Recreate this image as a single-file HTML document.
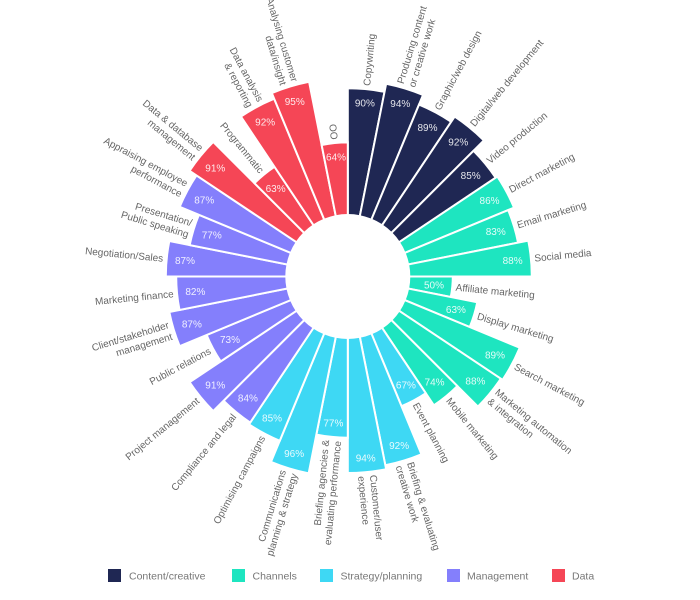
<!DOCTYPE html>
<html>
<head>
<meta charset="utf-8">
<style>
  html, body { margin: 0; padding: 0; background: #fff; }
  svg { display: block; font-family: "Liberation Sans", sans-serif; }
</style>
</head>
<body>
<svg width="700" height="600" viewBox="0 0 700 600" xmlns="http://www.w3.org/2000/svg">
<rect width="700" height="600" fill="#fff"/>
<g transform="translate(347.8,276.5)">
  <!-- bars -->
  <g stroke="#fff" stroke-width="2" stroke-linejoin="miter">
    <path fill="#1f2753" vector-effect="non-scaling-stroke" transform="rotate(5.625) scale(188.2)" d="M0,0 L-0.098017,-0.995185 A1,1 0 0 1 0.098017,-0.995185 Z"/>
    <path fill="#1f2753" vector-effect="non-scaling-stroke" transform="rotate(16.875) scale(196.5)" d="M0,0 L-0.098017,-0.995185 A1,1 0 0 1 0.098017,-0.995185 Z"/>
    <path fill="#1f2753" vector-effect="non-scaling-stroke" transform="rotate(28.125) scale(186.1)" d="M0,0 L-0.098017,-0.995185 A1,1 0 0 1 0.098017,-0.995185 Z"/>
    <path fill="#1f2753" vector-effect="non-scaling-stroke" transform="rotate(39.375) scale(192.4)" d="M0,0 L-0.098017,-0.995185 A1,1 0 0 1 0.098017,-0.995185 Z"/>
    <path fill="#1f2753" vector-effect="non-scaling-stroke" transform="rotate(50.625) scale(177.8)" d="M0,0 L-0.098017,-0.995185 A1,1 0 0 1 0.098017,-0.995185 Z"/>
    <path fill="#1ee5c0" vector-effect="non-scaling-stroke" transform="rotate(61.875) scale(179.9)" d="M0,0 L-0.098017,-0.995185 A1,1 0 0 1 0.098017,-0.995185 Z"/>
    <path fill="#1ee5c0" vector-effect="non-scaling-stroke" transform="rotate(73.125) scale(173.6)" d="M0,0 L-0.098017,-0.995185 A1,1 0 0 1 0.098017,-0.995185 Z"/>
    <path fill="#1ee5c0" vector-effect="non-scaling-stroke" transform="rotate(84.375) scale(184.0)" d="M0,0 L-0.098017,-0.995185 A1,1 0 0 1 0.098017,-0.995185 Z"/>
    <path fill="#1ee5c0" vector-effect="non-scaling-stroke" transform="rotate(95.625) scale(105.0)" d="M0,0 L-0.098017,-0.995185 A1,1 0 0 1 0.098017,-0.995185 Z"/>
    <path fill="#1ee5c0" vector-effect="non-scaling-stroke" transform="rotate(106.875) scale(132.0)" d="M0,0 L-0.098017,-0.995185 A1,1 0 0 1 0.098017,-0.995185 Z"/>
    <path fill="#1ee5c0" vector-effect="non-scaling-stroke" transform="rotate(118.125) scale(186.1)" d="M0,0 L-0.098017,-0.995185 A1,1 0 0 1 0.098017,-0.995185 Z"/>
    <path fill="#1ee5c0" vector-effect="non-scaling-stroke" transform="rotate(129.375) scale(184.0)" d="M0,0 L-0.098017,-0.995185 A1,1 0 0 1 0.098017,-0.995185 Z"/>
    <path fill="#1ee5c0" vector-effect="non-scaling-stroke" transform="rotate(140.625) scale(154.9)" d="M0,0 L-0.098017,-0.995185 A1,1 0 0 1 0.098017,-0.995185 Z"/>
    <path fill="#3ed8f4" vector-effect="non-scaling-stroke" transform="rotate(151.875) scale(140.4)" d="M0,0 L-0.098017,-0.995185 A1,1 0 0 1 0.098017,-0.995185 Z"/>
    <path fill="#3ed8f4" vector-effect="non-scaling-stroke" transform="rotate(163.125) scale(192.4)" d="M0,0 L-0.098017,-0.995185 A1,1 0 0 1 0.098017,-0.995185 Z"/>
    <path fill="#3ed8f4" vector-effect="non-scaling-stroke" transform="rotate(174.375) scale(196.5)" d="M0,0 L-0.098017,-0.995185 A1,1 0 0 1 0.098017,-0.995185 Z"/>
    <path fill="#3ed8f4" vector-effect="non-scaling-stroke" transform="rotate(185.625) scale(161.2)" d="M0,0 L-0.098017,-0.995185 A1,1 0 0 1 0.098017,-0.995185 Z"/>
    <path fill="#3ed8f4" vector-effect="non-scaling-stroke" transform="rotate(196.875) scale(200.7)" d="M0,0 L-0.098017,-0.995185 A1,1 0 0 1 0.098017,-0.995185 Z"/>
    <path fill="#3ed8f4" vector-effect="non-scaling-stroke" transform="rotate(208.125) scale(177.8)" d="M0,0 L-0.098017,-0.995185 A1,1 0 0 1 0.098017,-0.995185 Z"/>
    <path fill="#847ffc" vector-effect="non-scaling-stroke" transform="rotate(219.375) scale(175.7)" d="M0,0 L-0.098017,-0.995185 A1,1 0 0 1 0.098017,-0.995185 Z"/>
    <path fill="#847ffc" vector-effect="non-scaling-stroke" transform="rotate(230.625) scale(190.3)" d="M0,0 L-0.098017,-0.995185 A1,1 0 0 1 0.098017,-0.995185 Z"/>
    <path fill="#847ffc" vector-effect="non-scaling-stroke" transform="rotate(241.875) scale(152.8)" d="M0,0 L-0.098017,-0.995185 A1,1 0 0 1 0.098017,-0.995185 Z"/>
    <path fill="#847ffc" vector-effect="non-scaling-stroke" transform="rotate(253.125) scale(182.0)" d="M0,0 L-0.098017,-0.995185 A1,1 0 0 1 0.098017,-0.995185 Z"/>
    <path fill="#847ffc" vector-effect="non-scaling-stroke" transform="rotate(264.375) scale(171.6)" d="M0,0 L-0.098017,-0.995185 A1,1 0 0 1 0.098017,-0.995185 Z"/>
    <path fill="#847ffc" vector-effect="non-scaling-stroke" transform="rotate(275.625) scale(182.0)" d="M0,0 L-0.098017,-0.995185 A1,1 0 0 1 0.098017,-0.995185 Z"/>
    <path fill="#847ffc" vector-effect="non-scaling-stroke" transform="rotate(286.875) scale(161.2)" d="M0,0 L-0.098017,-0.995185 A1,1 0 0 1 0.098017,-0.995185 Z"/>
    <path fill="#847ffc" vector-effect="non-scaling-stroke" transform="rotate(298.125) scale(182.0)" d="M0,0 L-0.098017,-0.995185 A1,1 0 0 1 0.098017,-0.995185 Z"/>
    <path fill="#f54656" vector-effect="non-scaling-stroke" transform="rotate(309.375) scale(190.3)" d="M0,0 L-0.098017,-0.995185 A1,1 0 0 1 0.098017,-0.995185 Z"/>
    <path fill="#f54656" vector-effect="non-scaling-stroke" transform="rotate(320.625) scale(132.0)" d="M0,0 L-0.098017,-0.995185 A1,1 0 0 1 0.098017,-0.995185 Z"/>
    <path fill="#f54656" vector-effect="non-scaling-stroke" transform="rotate(331.875) scale(192.4)" d="M0,0 L-0.098017,-0.995185 A1,1 0 0 1 0.098017,-0.995185 Z"/>
    <path fill="#f54656" vector-effect="non-scaling-stroke" transform="rotate(343.125) scale(198.6)" d="M0,0 L-0.098017,-0.995185 A1,1 0 0 1 0.098017,-0.995185 Z"/>
    <path fill="#f54656" vector-effect="non-scaling-stroke" transform="rotate(354.375) scale(134.1)" d="M0,0 L-0.098017,-0.995185 A1,1 0 0 1 0.098017,-0.995185 Z"/>
  </g>
  <circle cx="0" cy="0" r="62.5" fill="#fff"/>

  <!-- percentage labels -->
  <g fill="#ffffff" fill-opacity="0.88" font-size="10" text-anchor="middle">
    <text transform="rotate(5.625) translate(0,-174.2) rotate(-5.625)" y="3.5">90%</text>
    <text transform="rotate(16.875) translate(0,-180.8) rotate(-16.875)" y="3.5">94%</text>
    <text transform="rotate(28.125) translate(0,-169.0) rotate(-28.125)" y="3.5">89%</text>
    <text transform="rotate(39.375) translate(0,-174.2) rotate(-39.375)" y="3.5">92%</text>
    <text transform="rotate(50.625) translate(0,-158.9) rotate(-50.625)" y="3.5">85%</text>
    <text transform="rotate(61.875) translate(0,-160.7) rotate(-61.875)" y="3.5">86%</text>
    <text transform="rotate(73.125) translate(0,-154.6) rotate(-73.125)" y="3.5">83%</text>
    <text transform="rotate(84.375) translate(0,-165.6) rotate(-84.375)" y="3.5">88%</text>
    <text transform="rotate(95.625) translate(0,-86.6) rotate(-95.625)" y="3.5">50%</text>
    <text transform="rotate(106.875) translate(0,-113.0) rotate(-106.875)" y="3.5">63%</text>
    <text transform="rotate(118.125) translate(0,-166.9) rotate(-118.125)" y="3.5">89%</text>
    <text transform="rotate(129.375) translate(0,-165.1) rotate(-129.375)" y="3.5">88%</text>
    <text transform="rotate(140.625) translate(0,-136.7) rotate(-140.625)" y="3.5">74%</text>
    <text transform="rotate(151.875) translate(0,-123.3) rotate(-151.875)" y="3.5">67%</text>
    <text transform="rotate(163.125) translate(0,-176.7) rotate(-163.125)" y="3.5">92%</text>
    <text transform="rotate(174.375) translate(0,-182.5) rotate(-174.375)" y="3.5">94%</text>
    <text transform="rotate(185.625) translate(0,-147.2) rotate(-185.625)" y="3.5">77%</text>
    <text transform="rotate(196.875) translate(0,-185.0) rotate(-196.875)" y="3.5">96%</text>
    <text transform="rotate(208.125) translate(0,-160.7) rotate(-208.125)" y="3.5">85%</text>
    <text transform="rotate(219.375) translate(0,-157.5) rotate(-219.375)" y="3.5">84%</text>
    <text transform="rotate(230.625) translate(0,-171.4) rotate(-230.625)" y="3.5">91%</text>
    <text transform="rotate(241.875) translate(0,-133.6) rotate(-241.875)" y="3.5">73%</text>
    <text transform="rotate(253.125) translate(0,-163.0) rotate(-253.125)" y="3.5">87%</text>
    <text transform="rotate(264.375) translate(0,-153.2) rotate(-264.375)" y="3.5">82%</text>
    <text transform="rotate(275.625) translate(0,-163.6) rotate(-275.625)" y="3.5">87%</text>
    <text transform="rotate(286.875) translate(0,-142.2) rotate(-286.875)" y="3.5">77%</text>
    <text transform="rotate(298.125) translate(0,-162.8) rotate(-298.125)" y="3.5">87%</text>
    <text transform="rotate(309.375) translate(0,-171.4) rotate(-309.375)" y="3.5">91%</text>
    <text transform="rotate(320.625) translate(0,-113.8) rotate(-320.625)" y="3.5">63%</text>
    <text transform="rotate(331.875) translate(0,-175.3) rotate(-331.875)" y="3.5">92%</text>
    <text transform="rotate(343.125) translate(0,-182.9) rotate(-343.125)" y="3.5">95%</text>
    <text transform="rotate(354.375) translate(0,-120.1) rotate(-354.375)" y="3.5">64%</text>
  </g>

  <!-- category labels, right half -->
  <g fill="#666666" font-size="10" text-anchor="start">
    <text transform="rotate(5.625) translate(0,-191.7) rotate(-90)" y="3.5">Copywriting</text>
    <text transform="rotate(16.875) translate(0,-200.0) rotate(-90)"><tspan x="0" y="-2.5">Producing content</tspan><tspan x="0" y="9.5">or creative work</tspan></text>
    <text transform="rotate(28.125) translate(0,-189.6) rotate(-90)" y="3.5">Graphic/web design</text>
    <text transform="rotate(39.375) translate(0,-195.9) rotate(-90)" y="3.5">Digital/web development</text>
    <text transform="rotate(50.625) translate(0,-181.3) rotate(-90)" y="3.5">Video production</text>
    <text transform="rotate(61.875) translate(0,-183.4) rotate(-90)" y="3.5">Direct marketing</text>
    <text transform="rotate(73.125) translate(0,-177.1) rotate(-90)" y="3.5">Email marketing</text>
    <text transform="rotate(84.375) translate(0,-187.5) rotate(-90)" y="3.5">Social media</text>
    <text transform="rotate(95.625) translate(0,-108.5) rotate(-90)" y="3.5">Affiliate marketing</text>
    <text transform="rotate(106.875) translate(0,-135.5) rotate(-90)" y="3.5">Display marketing</text>
    <text transform="rotate(118.125) translate(0,-189.6) rotate(-90)" y="3.5">Search marketing</text>
    <text transform="rotate(129.375) translate(0,-187.5) rotate(-90)"><tspan x="0" y="-2.5">Marketing automation</tspan><tspan x="0" y="9.5">&amp; integration</tspan></text>
    <text transform="rotate(140.625) translate(0,-158.4) rotate(-90)" y="3.5">Mobile marketing</text>
    <text transform="rotate(151.875) translate(0,-143.9) rotate(-90)" y="3.5">Event planning</text>
    <text transform="rotate(163.125) translate(0,-195.9) rotate(-90)"><tspan x="0" y="-2.5">Briefing &amp; evaluating</tspan><tspan x="0" y="9.5">creative work</tspan></text>
    <text transform="rotate(174.375) translate(0,-200.0) rotate(-90)"><tspan x="0" y="-2.5">Customer/user</tspan><tspan x="0" y="9.5">experience</tspan></text>
  </g>

  <!-- category labels, left half -->
  <g fill="#666666" font-size="10" text-anchor="end">
    <text transform="rotate(185.625) translate(0,-164.7) rotate(90)"><tspan x="0" y="-2.5">Briefing agencies &amp;</tspan><tspan x="0" y="9.5">evaluating performance</tspan></text>
    <text transform="rotate(196.875) translate(0,-204.2) rotate(90)"><tspan x="0" y="-2.5">Communications</tspan><tspan x="0" y="9.5">planning &amp; strategy</tspan></text>
    <text transform="rotate(208.125) translate(0,-181.3) rotate(90)" y="3.5">Optimising campaigns</text>
    <text transform="rotate(219.375) translate(0,-179.2) rotate(90)" y="3.5">Compliance and legal</text>
    <text transform="rotate(230.625) translate(0,-193.8) rotate(90)" y="3.5">Project management</text>
    <text transform="rotate(241.875) translate(0,-156.3) rotate(90)" y="3.5">Public relations</text>
    <text transform="rotate(253.125) translate(0,-185.5) rotate(90)"><tspan x="0" y="-2.5">Client/stakeholder</tspan><tspan x="0" y="9.5">management</tspan></text>
    <text transform="rotate(264.375) translate(0,-175.1) rotate(90)" y="3.5">Marketing finance</text>
    <text transform="rotate(275.625) translate(0,-185.5) rotate(90)" y="3.5">Negotiation/Sales</text>
    <text transform="rotate(286.875) translate(0,-164.7) rotate(90)"><tspan x="0" y="-2.5">Presentation/</tspan><tspan x="0" y="9.5">Public speaking</tspan></text>
    <text transform="rotate(298.125) translate(0,-185.5) rotate(90)"><tspan x="0" y="-2.5">Appraising employee</tspan><tspan x="0" y="9.5">performance</tspan></text>
    <text transform="rotate(309.375) translate(0,-193.8) rotate(90)"><tspan x="0" y="-2.5">Data &amp; database</tspan><tspan x="0" y="9.5">management</tspan></text>
    <text transform="rotate(320.625) translate(0,-135.5) rotate(90)" y="3.5">Programmatic</text>
    <text transform="rotate(331.875) translate(0,-195.9) rotate(90)"><tspan x="0" y="-2.5">Data analysis</tspan><tspan x="0" y="9.5">&amp; reporting</tspan></text>
    <text transform="rotate(343.125) translate(0,-202.1) rotate(90)"><tspan x="0" y="-2.5">Analysing customer</tspan><tspan x="0" y="9.5">data/insight</tspan></text>
    <text transform="rotate(354.375) translate(0,-137.6) rotate(90)" y="3.5">OO</text>
  </g>
</g>

<!-- legend -->
<g font-size="10.5" fill="#777777">
  <rect x="108" y="569" width="13" height="13" fill="#1f2753"/>
  <text x="129" y="579.5">Content/creative</text>
  <rect x="232" y="569" width="13" height="13" fill="#1ee5c0"/>
  <text x="252.5" y="579.5">Channels</text>
  <rect x="320" y="569" width="13" height="13" fill="#3ed8f4"/>
  <text x="340.5" y="579.5">Strategy/planning</text>
  <rect x="447" y="569" width="13" height="13" fill="#847ffc"/>
  <text x="467" y="579.5">Management</text>
  <rect x="552" y="569" width="13" height="13" fill="#f54656"/>
  <text x="572" y="579.5">Data</text>
</g>
</svg>
</body>
</html>
